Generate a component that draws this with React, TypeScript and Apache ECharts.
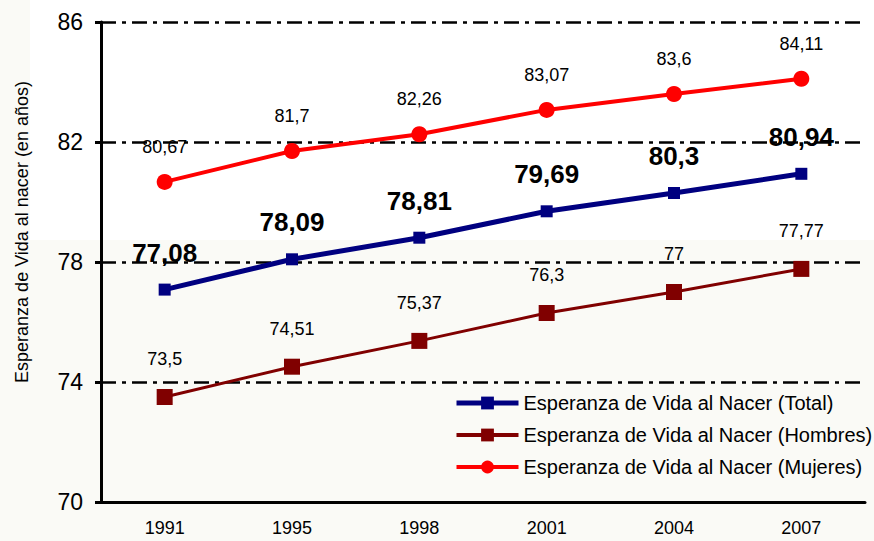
import React, { useEffect, useRef } from "react";
import * as echarts from "echarts";

const years = ["1991", "1995", "1998", "2001", "2004", "2007"];
const total = [77.08, 78.09, 78.81, 79.69, 80.3, 80.94];
const hombres = [73.5, 74.51, 75.37, 76.3, 77, 77.77];
const mujeres = [80.67, 81.7, 82.26, 83.07, 83.6, 84.11];

const fmt = (p: any) => String(p.value).replace(".", ",");
const FONT = "Liberation Sans, Arial, sans-serif";
const N_TOTAL = "Esperanza de Vida al Nacer (Total)";
const N_HOM = "Esperanza de Vida al Nacer (Hombres)";
const N_MUJ = "Esperanza de Vida al Nacer (Mujeres)";

export default function App() {
  const ref = useRef<HTMLDivElement>(null);
  useEffect(() => {
    const chart = echarts.init(ref.current!, null, { renderer: "svg" });
    chart.setOption({
      animation: false,
      backgroundColor: "#fafaf6",
      textStyle: { fontFamily: FONT },
      graphic: [
        { type: "rect", z: -10, shape: { x: 30, y: 0, width: 844, height: 240 }, style: { fill: "#ffffff" } },
        {
          type: "text",
          x: 22,
          y: 232,
          rotation: Math.PI / 2,
          style: {
            text: "Esperanza de Vida al nacer (en años)",
            fontSize: 18,
            fontFamily: FONT,
            fill: "#000",
            align: "center",
            verticalAlign: "middle",
          },
        },
      ],
      grid: { left: 101, right: 9, top: 22, bottom: 39 },
      legend: {
        orient: "vertical",
        left: 454,
        top: 393,
        padding: 0,
        itemWidth: 62,
        itemHeight: 16,
        itemGap: 12,
        textStyle: { fontSize: 20, color: "#000", fontFamily: FONT },
        data: [
          { name: N_TOTAL, lineStyle: { width: 5 }, itemStyle: { color: "#000080" } },
          { name: N_HOM, lineStyle: { width: 4 } },
          { name: N_MUJ, lineStyle: { width: 4 } },
        ],
      },
      xAxis: {
        type: "category",
        data: years,
        boundaryGap: true,
        axisLine: { lineStyle: { color: "#000", width: 3 } },
        axisTick: { show: false },
        axisLabel: { color: "#000", fontSize: 18, margin: 17, fontFamily: FONT },
      },
      yAxis: {
        type: "value",
        min: 70,
        max: 86,
        interval: 4,
        axisLine: { show: true, lineStyle: { color: "#000", width: 3 } },
        axisTick: { show: true, length: 6, lineStyle: { color: "#000", width: 3 } },
        axisLabel: { color: "#000", fontSize: 23, margin: 18, fontFamily: FONT },
        splitLine: {
          show: true,
          lineStyle: { color: "#000", width: 2.5, type: [15, 6, 4, 6] },
        },
      },
      series: [
        {
          name: N_TOTAL,
          type: "line",
          data: total,
          color: "#000080",
          lineStyle: { width: 5, color: "#000080" },
          symbol: "rect",
          symbolSize: 12,
          itemStyle: { color: "#000080" },
          label: {
            show: true,
            position: "top",
            distance: 18,
            formatter: fmt,
            fontSize: 26,
            fontWeight: "bold",
            color: "#000",
            fontFamily: FONT,
          },
          z: 5,
        },
        {
          name: N_HOM,
          type: "line",
          data: hombres,
          color: "#800000",
          lineStyle: { width: 3, color: "#800000" },
          symbol: "rect",
          symbolSize: 16,
          itemStyle: { color: "#800000" },
          label: {
            show: true,
            position: "top",
            distance: 21,
            formatter: fmt,
            fontSize: 18,
            color: "#000",
            fontFamily: FONT,
          },
        },
        {
          name: N_MUJ,
          type: "line",
          data: mujeres,
          color: "#ff0000",
          lineStyle: { width: 4, color: "#ff0000" },
          symbol: "circle",
          symbolSize: 16,
          itemStyle: { color: "#ff0000" },
          label: {
            show: true,
            position: "top",
            distance: 18,
            formatter: fmt,
            fontSize: 18,
            color: "#000",
            fontFamily: FONT,
          },
        },
      ],
    });
    return () => chart.dispose();
  }, []);
  return <div ref={ref} style={{ width: 874, height: 541, position: "fixed", left: 0, top: 0 }} />;
}
